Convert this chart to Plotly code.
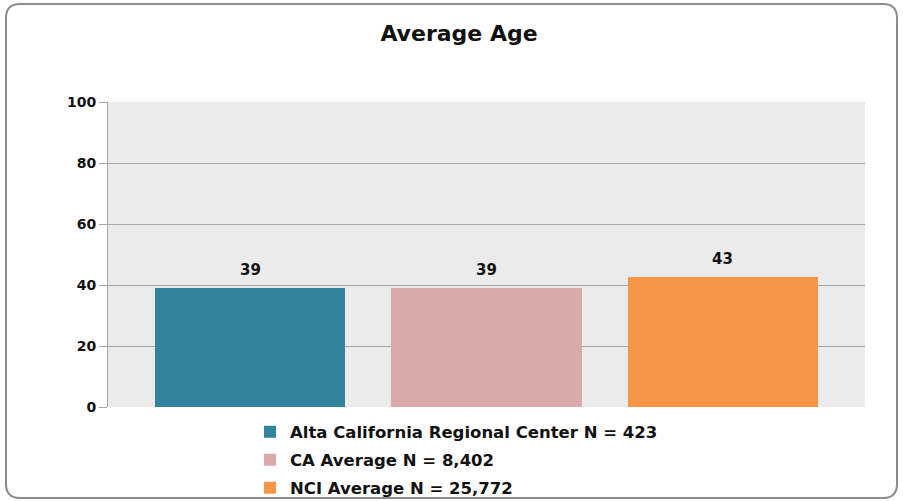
import plotly.graph_objects as go

# data
series_names = [
    "Alta California Regional Center N = 423",
    "CA Average N = 8,402",
    "NCI Average N = 25,772",
]
average_age = [38.9, 39.0, 42.6]
bar_colors = ["#31849B", "#DAA9AA", "#F79646"]
y_ticks = [0, 20, 40, 60, 80, 100]

W, H = 903, 501
L, R, T, B = 108, 38, 102, 94
FONT = "DejaVu Sans"


def px_to_paper(x, y):
    return (x - L) / (W - L - R), (H - B - y) / (H - T - B)


fig = go.Figure()
for i, (name, val, col) in enumerate(zip(series_names, average_age, bar_colors)):
    fig.add_trace(go.Bar(
        x=[i],
        y=[val],
        name=name,
        legendgroup=name,
        width=0.805,
        marker=dict(color=col, line=dict(width=0)),
    ))
    # value label sits a little higher than plotly's "outside" text
    fig.add_annotation(x=i, y=val, text=f"{val:.0f}", showarrow=False,
                       yanchor="middle", yshift=18,
                       font=dict(family=FONT, size=15, color="#111111", weight="bold"))

# rounded outer frame
x0, y0, x1, y1, r = 6, 4, 897, 498, 14
def p(x, y):
    a, b = px_to_paper(x, y)
    return f"{a:.5f},{b:.5f}"
path = (f"M {p(x0 + r, y0)} L {p(x1 - r, y0)} Q {p(x1, y0)} {p(x1, y0 + r)} "
        f"L {p(x1, y1 - r)} Q {p(x1, y1)} {p(x1 - r, y1)} "
        f"L {p(x0 + r, y1)} Q {p(x0, y1)} {p(x0, y1 - r)} "
        f"L {p(x0, y0 + r)} Q {p(x0, y0)} {p(x0 + r, y0)} Z")
fig.add_shape(type="path", path=path, xref="paper", yref="paper",
              line=dict(color="#8c8c8c", width=2), layer="below")

lx, ly = px_to_paper(250, 414.5)
fig.update_layout(
    width=W, height=H,
    margin=dict(l=L, r=R, t=T, b=B, autoexpand=False),
    paper_bgcolor="white",
    plot_bgcolor="#EBEBEB",
    title=dict(text="<b>Average Age</b>", x=459 / W, xref="container", xanchor="center",
               y=1 - 33 / H, yref="container", yanchor="middle",
               font=dict(family=FONT, size=22, color="#111111")),
    xaxis=dict(range=[-0.602, 2.602], showticklabels=False, showgrid=False,
               zeroline=False, showline=False, ticks=""),
    yaxis=dict(range=[0, 100], tickvals=y_ticks, showgrid=True, gridcolor="#A6A6A6",
               gridwidth=1, zeroline=False, showline=True, linecolor="#A6A6A6",
               linewidth=1, ticks="outside", ticklen=8, tickcolor="#A6A6A6",
               tickfont=dict(family=FONT, size=14, color="#111111", weight="bold")),
    showlegend=True,
    legend=dict(x=lx, y=ly, xanchor="left", yanchor="top", orientation="v",
                font=dict(family=FONT, size=16.5, color="#111111", weight="bold"),
                bgcolor="rgba(0,0,0,0)", tracegroupgap=3.5, itemwidth=30),
    bargap=0,
)

fig.write_html("out.html", config={"displayModeBar": False},
               post_script="document.body.style.margin='0';")
